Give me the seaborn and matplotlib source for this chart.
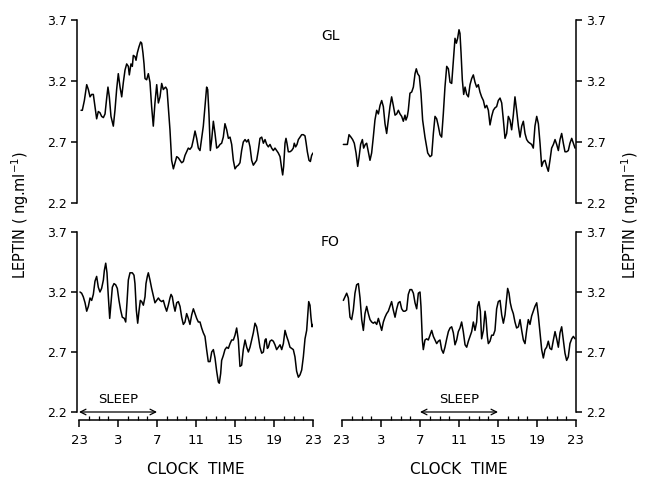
import matplotlib
matplotlib.use("Agg")
import matplotlib.pyplot as plt
from matplotlib.ticker import MultipleLocator
import seaborn as sns
import pandas as pd

# ==========================================
# Data: hours elapsed since 23:00, leptin (ng/ml)
# ==========================================
gl_left_hours = [0.21, 0.34, 0.55, 0.79, 0.96, 1.13, 1.30, 1.47, 1.64, 1.81, 1.98, 2.15, 2.32, 2.50, 2.67, 2.84, 2.97, 3.11, 3.28, 3.52,
                 3.69, 3.86, 4.03, 4.21, 4.38, 4.55, 4.72, 4.89, 5.06, 5.16, 5.33, 5.47, 5.57, 5.74, 5.85, 5.98, 6.15, 6.32, 6.43, 6.56,
                 6.67, 6.77, 6.94, 7.11, 7.28, 7.45, 7.62, 7.79, 7.97, 8.14, 8.31, 8.48, 8.65, 8.75, 8.89, 9.03, 9.16, 9.33, 9.50, 9.68,
                 9.85, 10.02, 10.19, 10.36, 10.53, 10.70, 10.87, 11.04, 11.21, 11.38, 11.56, 11.73, 11.90, 12.07, 12.24, 12.41,
                 12.51, 12.75, 12.92, 13.09, 13.20, 13.33, 13.47, 13.61, 13.78, 13.95, 14.12, 14.29, 14.46, 14.63, 14.80, 14.97,
                 15.15, 15.32, 15.49, 15.66, 15.83, 16.00, 16.17, 16.34, 16.51, 16.68, 16.85, 17.03, 17.20, 17.37, 17.54, 17.71,
                 17.88, 18.05, 18.22, 18.39, 18.56, 18.74, 18.91, 19.08, 19.25, 19.42, 19.59, 19.76, 19.93, 20.10, 20.27, 20.44,
                 20.62, 20.79, 20.89, 20.99, 21.13, 21.23, 21.33, 21.47, 21.64, 21.81, 21.98, 22.08, 22.22, 22.36, 22.50, 22.67,
                 22.84, 23.01, 23.18, 23.28, 23.42, 23.59, 23.73, 23.86, 24.00]
gl_left_leptin = [2.96, 2.96, 3.04, 3.17, 3.13, 3.07, 3.09, 3.09, 2.99, 2.89, 2.95, 2.94, 2.91, 2.90, 2.93, 3.06, 3.15, 3.07, 2.91, 2.83,
                  2.96, 3.13, 3.26, 3.15, 3.07, 3.19, 3.29, 3.34, 3.32, 3.25, 3.34, 3.32, 3.41, 3.40, 3.37, 3.43, 3.48, 3.52, 3.51, 3.43,
                  3.34, 3.22, 3.21, 3.26, 3.19, 2.99, 2.83, 3.02, 3.17, 3.02, 3.07, 3.18, 3.13, 3.14, 3.15, 3.13, 2.99, 2.80, 2.55, 2.48,
                  2.53, 2.58, 2.57, 2.55, 2.53, 2.54, 2.59, 2.62, 2.65, 2.64, 2.66, 2.72, 2.79, 2.73, 2.65, 2.63,
                  2.69, 2.83, 2.99, 3.15, 3.13, 2.93, 2.63, 2.72, 2.87, 2.77, 2.65, 2.66, 2.68, 2.69, 2.74, 2.85,
                  2.80, 2.73, 2.74, 2.68, 2.55, 2.48, 2.50, 2.51, 2.53, 2.63, 2.70, 2.72, 2.70, 2.72, 2.66, 2.55,
                  2.51, 2.53, 2.55, 2.63, 2.73, 2.74, 2.69, 2.72, 2.68, 2.66, 2.68, 2.65, 2.63, 2.65, 2.63, 2.61,
                  2.58, 2.48, 2.43, 2.50, 2.69, 2.73, 2.69, 2.62, 2.62, 2.63, 2.65, 2.69, 2.66, 2.68, 2.72, 2.74,
                  2.76, 2.76, 2.75, 2.70, 2.62, 2.55, 2.54, 2.59, 2.61]

gl_right_hours = [0.14, 0.31, 0.55, 0.72, 0.92, 1.09, 1.26, 1.44, 1.61, 1.74, 1.91, 2.09, 2.22, 2.39, 2.53, 2.70, 2.87, 3.04, 3.21, 3.38,
                  3.56, 3.73, 3.90, 4.07, 4.24, 4.41, 4.58, 4.75, 4.92, 5.09, 5.26, 5.44, 5.61, 5.78, 5.95, 6.12, 6.29, 6.46, 6.56, 6.70,
                  6.80, 6.97, 7.15, 7.32, 7.49, 7.62, 7.76, 7.93, 8.10, 8.27, 8.51, 8.79, 9.03, 9.20, 9.37, 9.54, 9.71, 9.88, 10.05, 10.22,
                  10.39, 10.56, 10.74, 10.91, 11.08, 11.25, 11.35, 11.49, 11.59, 11.73, 11.86, 12.00,
                  12.10, 12.21, 12.34, 12.48, 12.62, 12.79, 12.96, 13.13, 13.30, 13.47, 13.64, 13.81, 13.98, 14.15, 14.32, 14.50,
                  14.67, 14.84, 15.01, 15.18, 15.35, 15.52, 15.69, 15.86, 16.03, 16.21, 16.38, 16.55, 16.72, 16.89, 17.06, 17.23,
                  17.40, 17.57, 17.74, 17.91, 18.09, 18.26, 18.43, 18.60, 18.77, 18.94, 19.11, 19.28, 19.45, 19.62, 19.79, 19.97,
                  20.14, 20.31, 20.48, 20.65, 20.82, 20.99, 21.16, 21.33, 21.50, 21.68, 21.85, 22.02, 22.19, 22.36, 22.53, 22.70,
                  22.87, 23.04, 23.21, 23.38, 23.56, 23.73, 23.90]
gl_right_leptin = [2.68, 2.68, 2.68, 2.76, 2.74, 2.72, 2.69, 2.61, 2.50, 2.57, 2.68, 2.72, 2.65, 2.68, 2.69, 2.62, 2.55, 2.61, 2.74, 2.88,
                   2.96, 2.93, 3.00, 3.04, 2.99, 2.85, 2.77, 2.88, 2.99, 3.07, 3.00, 2.92, 2.93, 2.96, 2.93, 2.91, 2.87, 2.92, 2.88, 2.91,
                   2.96, 3.10, 3.11, 3.15, 3.26, 3.30, 3.26, 3.24, 3.10, 2.88, 2.74, 2.61, 2.58, 2.59, 2.77, 2.91, 2.89, 2.83, 2.76, 2.74,
                   2.93, 3.15, 3.32, 3.30, 3.19, 3.18, 3.29, 3.45, 3.55, 3.51, 3.55, 3.62,
                   3.59, 3.43, 3.21, 3.09, 3.15, 3.09, 3.07, 3.17, 3.22, 3.25, 3.19, 3.15, 3.17, 3.11, 3.07, 3.04,
                   2.98, 3.00, 2.96, 2.84, 2.91, 2.96, 2.98, 2.99, 3.04, 3.06, 3.02, 2.88, 2.73, 2.77, 2.91, 2.88,
                   2.80, 2.92, 3.07, 2.96, 2.83, 2.74, 2.83, 2.87, 2.77, 2.72, 2.70, 2.69, 2.68, 2.65, 2.83, 2.91,
                   2.85, 2.69, 2.50, 2.54, 2.55, 2.50, 2.46, 2.55, 2.65, 2.68, 2.72, 2.68, 2.63, 2.72, 2.77, 2.69,
                   2.62, 2.62, 2.63, 2.69, 2.73, 2.69, 2.65]

fo_left_hours = [0.10, 0.27, 0.44, 0.62, 0.79, 0.96, 1.13, 1.30, 1.47, 1.64, 1.81, 1.98, 2.15, 2.32, 2.50, 2.60, 2.74, 2.87, 3.01, 3.15,
                 3.28, 3.42, 3.59, 3.76, 3.93, 4.10, 4.27, 4.44, 4.65, 4.79, 4.92, 5.06, 5.23, 5.47, 5.64, 5.74, 5.88, 6.02, 6.15, 6.29,
                 6.43, 6.60, 6.77, 6.87, 7.01, 7.11, 7.28, 7.45, 7.62, 7.79, 7.97, 8.14, 8.31, 8.48, 8.65, 8.82, 8.99, 9.16, 9.33, 9.44,
                 9.57, 9.71, 9.85, 10.02, 10.19, 10.36, 10.53, 10.70, 10.87, 11.04, 11.21, 11.38, 11.56, 11.73, 11.90, 12.07, 12.24,
                 12.41, 12.58, 12.75, 12.92, 13.09, 13.26, 13.44, 13.61, 13.78, 13.95, 14.12, 14.29, 14.39, 14.53, 14.63, 14.80,
                 14.97, 15.15, 15.32, 15.49, 15.66, 15.83, 16.00, 16.17, 16.34, 16.51, 16.68, 16.85, 17.03, 17.20, 17.37, 17.54,
                 17.71, 17.88, 18.05, 18.22, 18.39, 18.56, 18.74, 18.91, 19.08, 19.18, 19.32, 19.42, 19.59, 19.76, 19.93, 20.10,
                 20.27, 20.44, 20.62, 20.79, 20.96, 21.13, 21.30, 21.47, 21.64, 21.81, 21.98, 22.15, 22.32, 22.50, 22.67, 22.84,
                 23.01, 23.18, 23.35, 23.45, 23.56, 23.69, 23.79, 23.90, 24.00]
fo_left_leptin = [3.20, 3.19, 3.16, 3.11, 3.04, 3.08, 3.15, 3.13, 3.18, 3.29, 3.33, 3.24, 3.20, 3.23, 3.30, 3.38, 3.44, 3.36, 3.16, 2.98,
                  3.11, 3.24, 3.27, 3.26, 3.23, 3.13, 3.05, 2.99, 2.98, 2.95, 3.11, 3.30, 3.36, 3.36, 3.34, 3.27, 3.05, 2.94, 3.04, 3.13,
                  3.12, 3.09, 3.16, 3.27, 3.33, 3.36, 3.30, 3.23, 3.17, 3.11, 3.13, 3.15, 3.13, 3.12, 3.13, 3.08, 3.04, 3.09, 3.15, 3.18,
                  3.16, 3.09, 3.04, 3.11, 3.12, 3.08, 2.99, 2.93, 2.95, 3.02, 2.98, 2.93, 3.01, 3.06, 3.02, 2.98, 2.95,
                  2.95, 2.90, 2.86, 2.83, 2.72, 2.62, 2.62, 2.70, 2.72, 2.65, 2.54, 2.45, 2.44, 2.52, 2.63, 2.67,
                  2.72, 2.74, 2.73, 2.77, 2.80, 2.80, 2.84, 2.90, 2.80, 2.58, 2.59, 2.72, 2.80, 2.74, 2.70, 2.74,
                  2.80, 2.86, 2.94, 2.91, 2.83, 2.74, 2.69, 2.70, 2.80, 2.81, 2.73, 2.74, 2.79, 2.80, 2.79, 2.76,
                  2.72, 2.74, 2.76, 2.72, 2.77, 2.88, 2.83, 2.79, 2.74, 2.73, 2.72, 2.66, 2.54, 2.49, 2.51, 2.55,
                  2.66, 2.81, 2.88, 2.99, 3.12, 3.09, 2.99, 2.91, 2.93]

fo_right_hours = [0.14, 0.31, 0.48, 0.65, 0.82, 0.99, 1.16, 1.33, 1.50, 1.68, 1.85, 2.02, 2.19, 2.36, 2.53, 2.70, 2.87, 3.04, 3.21, 3.38,
                  3.56, 3.73, 3.90, 4.07, 4.24, 4.41, 4.58, 4.75, 4.92, 5.09, 5.26, 5.44, 5.61, 5.78, 5.95, 6.12, 6.29, 6.46, 6.63, 6.80,
                  6.97, 7.15, 7.32, 7.49, 7.66, 7.83, 8.00, 8.10, 8.24, 8.34, 8.51, 8.68, 8.85, 9.03, 9.20, 9.37, 9.54, 9.71, 9.88, 10.05,
                  10.22, 10.39, 10.56, 10.74, 10.91, 11.08, 11.25, 11.42, 11.59, 11.76, 11.93,
                  12.10, 12.27, 12.44, 12.62, 12.79, 12.96, 13.13, 13.30, 13.47, 13.64, 13.81, 13.91, 14.05, 14.19, 14.32, 14.50,
                  14.67, 14.77, 14.91, 15.01, 15.18, 15.35, 15.52, 15.69, 15.86, 16.03, 16.21, 16.38, 16.55, 16.72, 16.89, 16.99,
                  17.13, 17.26, 17.40, 17.57, 17.74, 17.91, 18.09, 18.26, 18.43, 18.60, 18.77, 18.94, 19.11, 19.28, 19.45, 19.62,
                  19.79, 19.97, 20.14, 20.31, 20.48, 20.65, 20.82, 20.99, 21.16, 21.33, 21.50, 21.68, 21.85, 22.02, 22.19, 22.36,
                  22.53, 22.70, 22.87, 23.04, 23.21, 23.38, 23.56, 23.73, 23.90]
fo_right_leptin = [3.13, 3.16, 3.19, 3.15, 2.99, 2.97, 3.05, 3.19, 3.26, 3.27, 3.15, 2.97, 2.88, 3.02, 3.08, 3.02, 2.97, 2.95, 2.94, 2.95,
                   2.93, 2.98, 2.93, 2.88, 2.95, 2.99, 3.02, 3.04, 3.08, 3.12, 3.05, 2.99, 3.06, 3.11, 3.12, 3.06, 3.04, 3.04, 3.05, 3.18,
                   3.22, 3.22, 3.19, 3.11, 3.06, 3.19, 3.20, 3.08, 2.80, 2.72, 2.80, 2.81, 2.80, 2.84, 2.88, 2.83, 2.80, 2.77, 2.79, 2.80,
                   2.72, 2.69, 2.74, 2.81, 2.87, 2.90, 2.91, 2.86, 2.76, 2.80, 2.87,
                   2.90, 2.95, 2.87, 2.76, 2.74, 2.79, 2.83, 2.87, 2.95, 2.88, 2.95, 3.08, 3.12, 3.04, 2.81, 2.88,
                   3.04, 2.98, 2.83, 2.77, 2.79, 2.84, 2.84, 2.88, 3.06, 3.12, 3.13, 3.01, 2.94, 3.01, 3.15, 3.23,
                   3.19, 3.11, 3.06, 3.02, 2.95, 2.90, 2.91, 2.97, 2.88, 2.80, 2.77, 2.88, 2.97, 2.93, 3.00, 3.04,
                   3.08, 3.11, 3.00, 2.86, 2.72, 2.65, 2.72, 2.74, 2.79, 2.73, 2.72, 2.80, 2.87, 2.81, 2.74, 2.86,
                   2.91, 2.80, 2.69, 2.63, 2.66, 2.77, 2.81, 2.83, 2.81]

hour_ticks = [0, 4, 8, 12, 16, 20, 24]
clock_labels = ["23", "3", "7", "11", "15", "19", "23"]
leptin_ticks = [2.2, 2.7, 3.2, 3.7]
sleep_spans = [(0, 8), (8, 16)]  # left: 23-7, right: 7-15

# ==========================================
# Figure
# ==========================================
sns.set_style("white")
plt.rcParams["font.family"] = ["DejaVu Sans"]
for key in ["text.color", "axes.labelcolor", "xtick.color", "ytick.color", "axes.edgecolor"]:
    plt.rcParams[key] = "black"

fig = plt.figure(figsize=(6.49, 4.84), dpi=100)
W, H = 649, 484

def px_axes(x0, x1, ytop, ybot):
    return fig.add_axes([x0 / W, 1 - ybot / H, (x1 - x0) / W, (ybot - ytop) / H])

ax_tl = px_axes(79, 313, 20, 203)
ax_tr = px_axes(342, 576, 20, 203)
ax_bl = px_axes(79, 313, 232, 412)
ax_br = px_axes(342, 576, 232, 412)

panels = [
    (ax_tl, gl_left_hours, gl_left_leptin, "left", False),
    (ax_tr, gl_right_hours, gl_right_leptin, "right", False),
    (ax_bl, fo_left_hours, fo_left_leptin, "left", True),
    (ax_br, fo_right_hours, fo_right_leptin, "right", True),
]

for ax, hrs, lep, side, bottom in panels:
    df = pd.DataFrame({"hours": hrs, "leptin": lep})
    sns.lineplot(data=df, x="hours", y="leptin", ax=ax, color="black", lw=1.1,
                 estimator=None, sort=False)
    ax.set_xlim(0, 24)
    ax.set_ylim(2.2, 3.7)
    ax.set_xlabel("")
    ax.set_ylabel("")
    ax.patch.set_alpha(0)
    for s in ax.spines.values():
        s.set_visible(False)
        s.set_linewidth(1.1)
    ys = ax.spines[side]
    ys.set_visible(True)
    ys.set_bounds(2.2, 3.7)
    if side == "left":
        ys.set_position(("outward", 1.5))
        ax.yaxis.tick_left()
    else:
        ax.yaxis.tick_right()
    ax.set_yticks(leptin_ticks)
    ax.set_yticklabels([f"{v:.1f}" for v in leptin_ticks])
    ax.tick_params(axis="y", direction="out", length=4, width=1.1, labelsize=9, pad=3)
    if bottom:
        bs = ax.spines["bottom"]
        bs.set_visible(True)
        bs.set_position(("outward", 6))
        bs.set_bounds(0, 24)
        ax.set_xticks(hour_ticks)
        ax.set_xticklabels(clock_labels)
        ax.xaxis.set_minor_locator(MultipleLocator(1))
        ax.tick_params(axis="x", which="both", bottom=True, top=False)
        ax.tick_params(axis="x", which="major", direction="out", length=5, width=1.1, labelsize=9.5, pad=5)
        ax.tick_params(axis="x", which="minor", direction="in", length=3, width=0.9)
        ax.set_xlabel("CLOCK  TIME", fontsize=11, labelpad=11)
    else:
        ax.set_xticks([])

# sleep arrows
for ax, (s0, s1) in zip([ax_bl, ax_br], sleep_spans):
    ax.annotate("", xy=(s0, 2.2), xytext=(s1, 2.2), annotation_clip=False,
                arrowprops=dict(arrowstyle="<->", color="black", lw=0.9,
                                shrinkA=0, shrinkB=0, mutation_scale=10))
    ax.text((s0 + s1) / 2, 2.25, "SLEEP", ha="center", va="bottom", fontsize=9.5)

# panel labels
fig.text(330 / W, 1 - 36 / H, "GL", ha="center", va="center", fontsize=10)
fig.text(330 / W, 1 - 242 / H, "FO", ha="center", va="center", fontsize=10)

# shared y labels on both sides
ylab = r"LEPTIN ( ng.ml$^{\mathregular{-1}}$)"
fig.text(20 / W, 1 - 215 / H, ylab, rotation=90, ha="center", va="center", fontsize=10.5)
fig.text(630 / W, 1 - 215 / H, ylab, rotation=90, ha="center", va="center", fontsize=10.5)

plt.savefig("out.png", dpi=100)
